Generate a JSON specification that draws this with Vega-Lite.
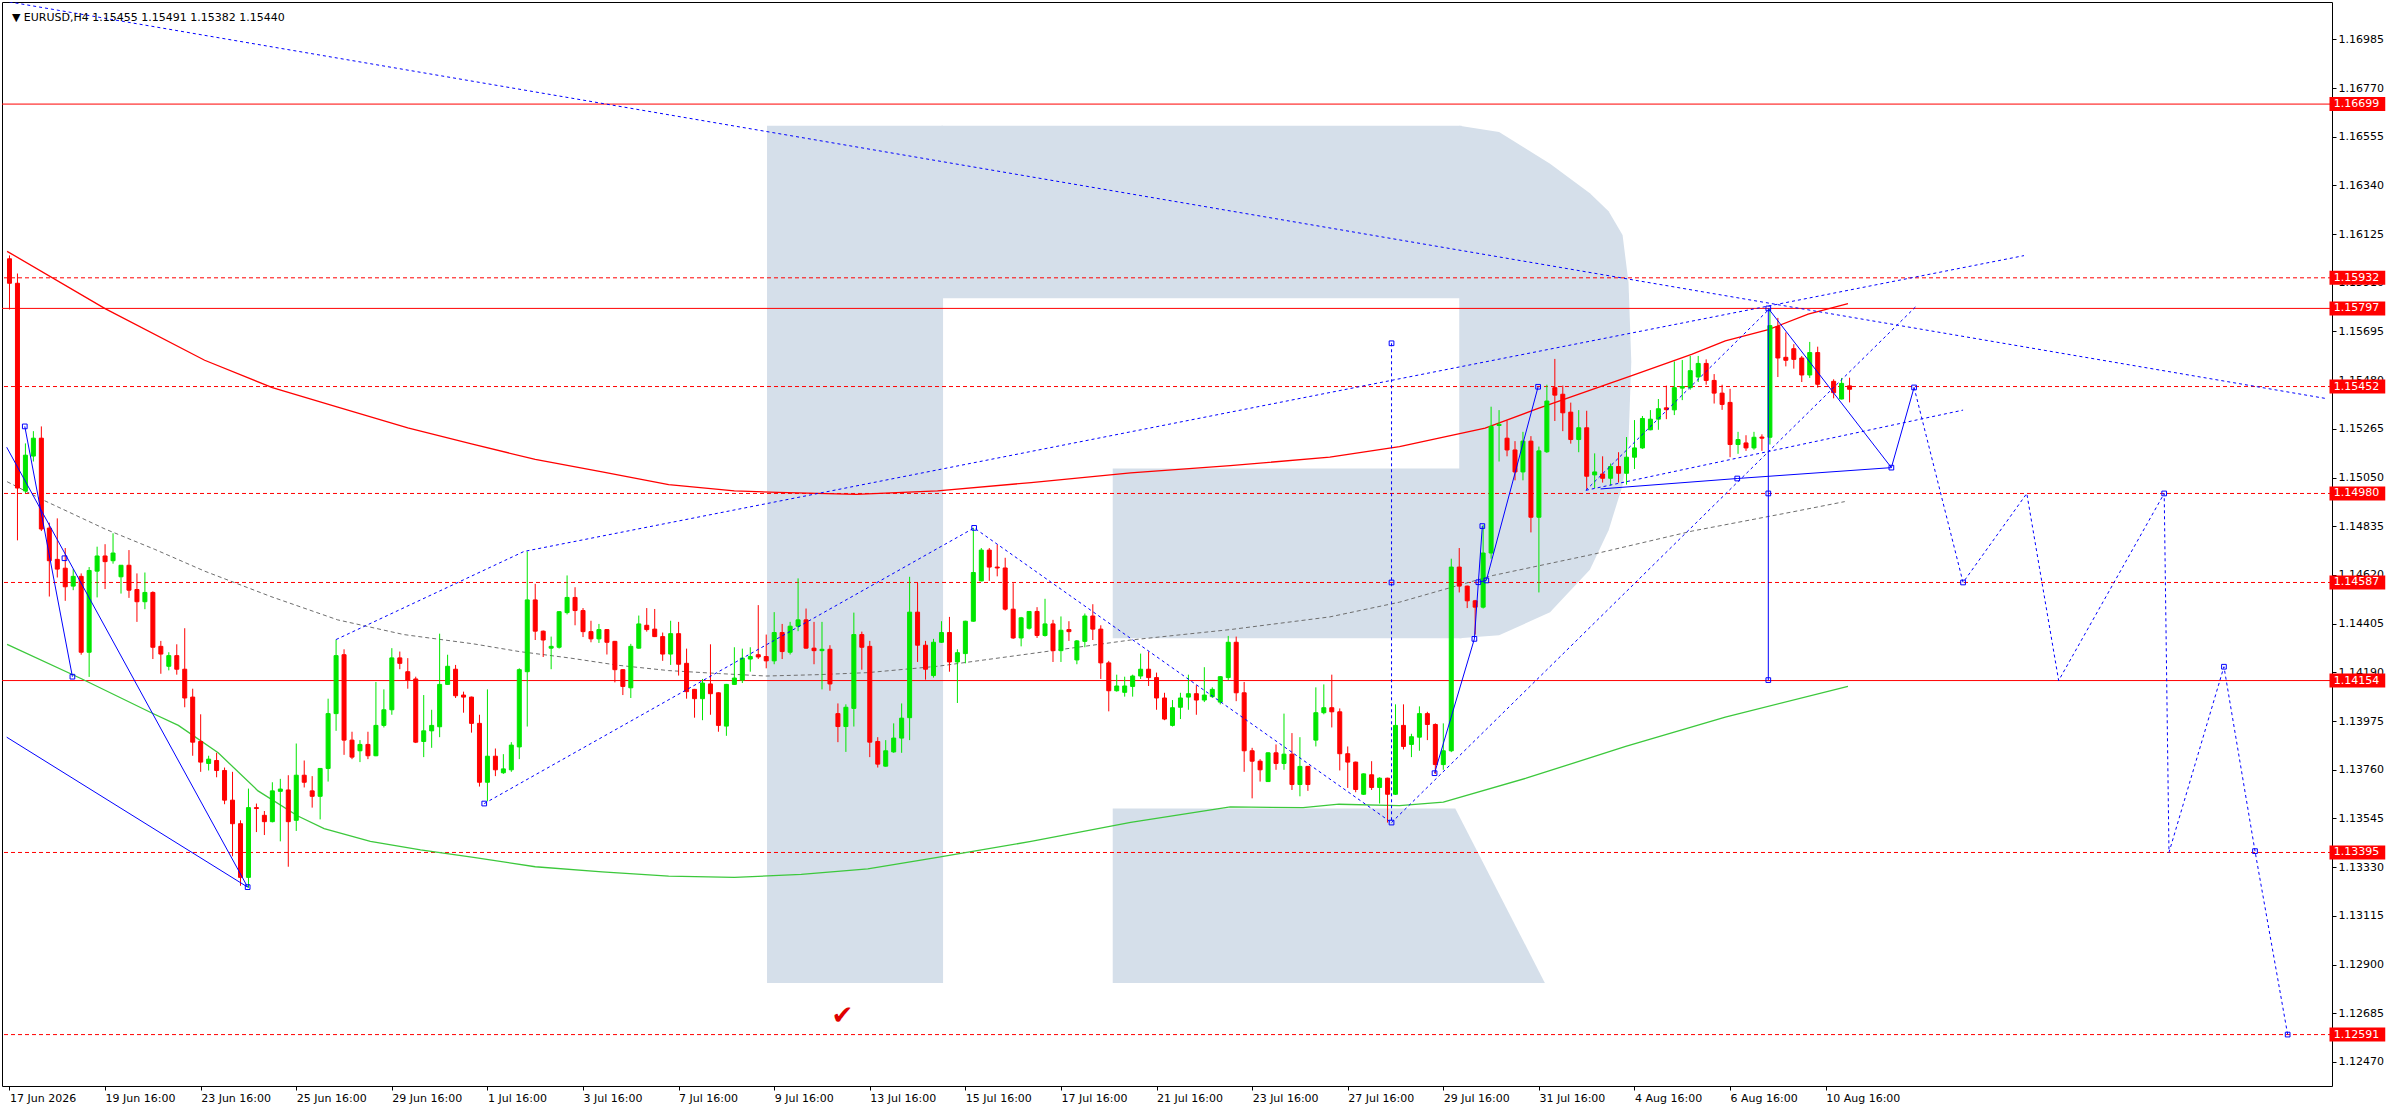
{
  "$schema": "https://vega.github.io/schema/vega-lite/v6.json",
  "description": "EURUSD H4 candles with levels, moving averages and forecast",
  "autosize": {"type": "none"},
  "padding": {"left": 2, "top": 2, "right": 64, "bottom": 24},
  "width": 2330,
  "height": 1084,
  "background": "white",
  "config": {
    "view": {"stroke": "black", "strokeWidth": 1},
    "font": "DejaVu Sans"
  },
  "datasets": {
    "bars": [
      {"i":0,"o":1.16016,"h":1.16031,"l":1.15792,"c":1.15908},
      {"i":1,"o":1.15908,"h":1.15951,"l":1.14773,"c":1.15004},
      {"i":2,"o":1.14991,"h":1.15201,"l":1.14982,"c":1.15149},
      {"i":3,"o":1.15145,"h":1.15255,"l":1.15121,"c":1.15224},
      {"i":4,"o":1.15224,"h":1.15276,"l":1.14814,"c":1.14823},
      {"i":5,"o":1.14827,"h":1.14851,"l":1.14525,"c":1.14683},
      {"i":6,"o":1.14689,"h":1.14870,"l":1.14609,"c":1.14646},
      {"i":7,"o":1.14650,"h":1.14739,"l":1.14506,"c":1.14568},
      {"i":8,"o":1.14571,"h":1.14646,"l":1.14553,"c":1.14614},
      {"i":9,"o":1.14614,"h":1.14627,"l":1.14268,"c":1.14279},
      {"i":10,"o":1.14279,"h":1.14655,"l":1.14170,"c":1.14640},
      {"i":11,"o":1.14637,"h":1.14745,"l":1.14521,"c":1.14704},
      {"i":12,"o":1.14704,"h":1.14756,"l":1.14558,"c":1.14679},
      {"i":13,"o":1.14683,"h":1.14804,"l":1.14670,"c":1.14717},
      {"i":14,"o":1.14612,"h":1.14663,"l":1.14538,"c":1.14663},
      {"i":15,"o":1.14663,"h":1.14730,"l":1.14519,"c":1.14553},
      {"i":16,"o":1.14556,"h":1.14627,"l":1.14413,"c":1.14502},
      {"i":17,"o":1.14502,"h":1.14631,"l":1.14469,"c":1.14543},
      {"i":18,"o":1.14543,"h":1.14548,"l":1.14249,"c":1.14301},
      {"i":19,"o":1.14305,"h":1.14329,"l":1.14184,"c":1.14271},
      {"i":20,"o":1.14217,"h":1.14279,"l":1.14199,"c":1.14264},
      {"i":21,"o":1.14264,"h":1.14314,"l":1.14180,"c":1.14204},
      {"i":22,"o":1.14204,"h":1.14385,"l":1.14036,"c":1.14077},
      {"i":23,"o":1.14081,"h":1.14118,"l":1.13822,"c":1.13882},
      {"i":24,"o":1.13885,"h":1.14005,"l":1.13751,"c":1.13794},
      {"i":25,"o":1.13788,"h":1.13822,"l":1.13757,"c":1.13807},
      {"i":26,"o":1.13801,"h":1.13835,"l":1.13727,"c":1.13757},
      {"i":27,"o":1.13757,"h":1.13770,"l":1.13608,"c":1.13626},
      {"i":28,"o":1.13626,"h":1.13751,"l":1.13378,"c":1.13522},
      {"i":29,"o":1.13522,"h":1.13537,"l":1.13248,"c":1.13285},
      {"i":30,"o":1.13285,"h":1.13677,"l":1.13239,"c":1.13593},
      {"i":31,"o":1.13593,"h":1.13611,"l":1.13485,"c":1.13589},
      {"i":32,"o":1.13559,"h":1.13578,"l":1.13472,"c":1.13531},
      {"i":33,"o":1.13531,"h":1.13705,"l":1.13528,"c":1.13667},
      {"i":34,"o":1.13665,"h":1.13720,"l":1.13444,"c":1.13675},
      {"i":35,"o":1.13671,"h":1.13736,"l":1.13332,"c":1.13531},
      {"i":36,"o":1.13537,"h":1.13876,"l":1.13490,"c":1.13736},
      {"i":37,"o":1.13736,"h":1.13801,"l":1.13682,"c":1.13705},
      {"i":38,"o":1.13667,"h":1.13732,"l":1.13593,"c":1.13643},
      {"i":39,"o":1.13643,"h":1.13768,"l":1.13541,"c":1.13766},
      {"i":40,"o":1.13766,"h":1.14074,"l":1.13708,"c":1.14008},
      {"i":41,"o":1.14008,"h":1.14335,"l":1.13932,"c":1.14264},
      {"i":42,"o":1.14268,"h":1.14292,"l":1.13826,"c":1.13891},
      {"i":43,"o":1.13891,"h":1.13928,"l":1.13807,"c":1.13816},
      {"i":44,"o":1.13844,"h":1.13891,"l":1.13794,"c":1.13872},
      {"i":45,"o":1.13872,"h":1.13928,"l":1.13807,"c":1.13822},
      {"i":46,"o":1.13822,"h":1.14148,"l":1.13820,"c":1.13956},
      {"i":47,"o":1.13956,"h":1.14115,"l":1.13947,"c":1.14025},
      {"i":48,"o":1.14025,"h":1.14297,"l":1.14003,"c":1.14254},
      {"i":49,"o":1.14254,"h":1.14282,"l":1.14204,"c":1.14230},
      {"i":50,"o":1.14193,"h":1.14253,"l":1.14118,"c":1.14156},
      {"i":51,"o":1.14161,"h":1.14171,"l":1.13878,"c":1.13882},
      {"i":52,"o":1.13885,"h":1.14090,"l":1.13816,"c":1.13932},
      {"i":53,"o":1.13932,"h":1.14025,"l":1.13857,"c":1.13956},
      {"i":54,"o":1.13950,"h":1.14361,"l":1.13904,"c":1.14137},
      {"i":55,"o":1.14137,"h":1.14268,"l":1.14135,"c":1.14217},
      {"i":56,"o":1.14204,"h":1.14223,"l":1.14077,"c":1.14087},
      {"i":57,"o":1.14090,"h":1.14105,"l":1.14012,"c":1.14081},
      {"i":58,"o":1.14081,"h":1.14083,"l":1.13924,"c":1.13965},
      {"i":59,"o":1.13965,"h":1.14003,"l":1.13686,"c":1.13705},
      {"i":60,"o":1.13705,"h":1.14115,"l":1.13621,"c":1.13820},
      {"i":61,"o":1.13820,"h":1.13854,"l":1.13732,"c":1.13760},
      {"i":62,"o":1.13747,"h":1.13829,"l":1.13742,"c":1.13764},
      {"i":63,"o":1.13760,"h":1.13882,"l":1.13751,"c":1.13869},
      {"i":64,"o":1.13861,"h":1.14208,"l":1.13807,"c":1.14202},
      {"i":65,"o":1.14193,"h":1.14724,"l":1.13951,"c":1.14510},
      {"i":66,"o":1.14510,"h":1.14581,"l":1.14333,"c":1.14372},
      {"i":67,"o":1.14372,"h":1.14375,"l":1.14258,"c":1.14333},
      {"i":68,"o":1.14297,"h":1.14348,"l":1.14204,"c":1.14305},
      {"i":69,"o":1.14301,"h":1.14460,"l":1.14295,"c":1.14458},
      {"i":70,"o":1.14454,"h":1.14618,"l":1.14446,"c":1.14521},
      {"i":71,"o":1.14521,"h":1.14566,"l":1.14398,"c":1.14463},
      {"i":72,"o":1.14463,"h":1.14474,"l":1.14346,"c":1.14370},
      {"i":73,"o":1.14370,"h":1.14418,"l":1.14323,"c":1.14338},
      {"i":74,"o":1.14338,"h":1.14404,"l":1.14320,"c":1.14379},
      {"i":75,"o":1.14379,"h":1.14381,"l":1.14269,"c":1.14323},
      {"i":76,"o":1.14327,"h":1.14329,"l":1.14146,"c":1.14202},
      {"i":77,"o":1.14202,"h":1.14204,"l":1.14090,"c":1.14128},
      {"i":78,"o":1.14122,"h":1.14316,"l":1.14077,"c":1.14305},
      {"i":79,"o":1.14297,"h":1.14441,"l":1.14295,"c":1.14404},
      {"i":80,"o":1.14398,"h":1.14474,"l":1.14370,"c":1.14379},
      {"i":81,"o":1.14381,"h":1.14470,"l":1.14346,"c":1.14348},
      {"i":82,"o":1.14348,"h":1.14366,"l":1.14241,"c":1.14271},
      {"i":83,"o":1.14271,"h":1.14418,"l":1.14223,"c":1.14361},
      {"i":84,"o":1.14361,"h":1.14413,"l":1.14176,"c":1.14226},
      {"i":85,"o":1.14230,"h":1.14295,"l":1.14074,"c":1.14105},
      {"i":86,"o":1.14115,"h":1.14117,"l":1.13990,"c":1.14074},
      {"i":87,"o":1.14074,"h":1.14161,"l":1.13979,"c":1.14143},
      {"i":88,"o":1.14139,"h":1.14314,"l":1.14003,"c":1.14096},
      {"i":89,"o":1.14100,"h":1.14102,"l":1.13928,"c":1.13956},
      {"i":90,"o":1.13953,"h":1.14139,"l":1.13910,"c":1.14137},
      {"i":91,"o":1.14137,"h":1.14301,"l":1.14135,"c":1.14165},
      {"i":92,"o":1.14156,"h":1.14295,"l":1.14143,"c":1.14253},
      {"i":93,"o":1.14249,"h":1.14301,"l":1.14193,"c":1.14260},
      {"i":94,"o":1.14268,"h":1.14487,"l":1.14249,"c":1.14258},
      {"i":95,"o":1.14260,"h":1.14357,"l":1.14208,"c":1.14241},
      {"i":96,"o":1.14241,"h":1.14456,"l":1.14226,"c":1.14366},
      {"i":97,"o":1.14366,"h":1.14404,"l":1.14249,"c":1.14282},
      {"i":98,"o":1.14279,"h":1.14413,"l":1.14269,"c":1.14394},
      {"i":99,"o":1.14394,"h":1.14605,"l":1.14372,"c":1.14422},
      {"i":100,"o":1.14422,"h":1.14472,"l":1.14295,"c":1.14297},
      {"i":101,"o":1.14297,"h":1.14413,"l":1.14226,"c":1.14286},
      {"i":102,"o":1.14286,"h":1.14413,"l":1.14115,"c":1.14292},
      {"i":103,"o":1.14292,"h":1.14310,"l":1.14109,"c":1.14139},
      {"i":104,"o":1.14008,"h":1.14053,"l":1.13882,"c":1.13951},
      {"i":105,"o":1.13951,"h":1.14049,"l":1.13839,"c":1.14036},
      {"i":106,"o":1.14031,"h":1.14454,"l":1.13951,"c":1.14357},
      {"i":107,"o":1.14357,"h":1.14370,"l":1.14202,"c":1.14301},
      {"i":108,"o":1.14305,"h":1.14329,"l":1.13816,"c":1.13882},
      {"i":109,"o":1.13885,"h":1.13904,"l":1.13770,"c":1.13785},
      {"i":110,"o":1.13776,"h":1.13891,"l":1.13774,"c":1.13844},
      {"i":111,"o":1.13839,"h":1.13965,"l":1.13835,"c":1.13900},
      {"i":112,"o":1.13900,"h":1.14053,"l":1.13835,"c":1.13988},
      {"i":113,"o":1.13990,"h":1.14612,"l":1.13891,"c":1.14456},
      {"i":114,"o":1.14456,"h":1.14586,"l":1.14236,"c":1.14310},
      {"i":115,"o":1.14310,"h":1.14329,"l":1.14158,"c":1.14204},
      {"i":116,"o":1.14176,"h":1.14338,"l":1.14167,"c":1.14323},
      {"i":117,"o":1.14323,"h":1.14416,"l":1.14320,"c":1.14366},
      {"i":118,"o":1.14366,"h":1.14435,"l":1.14193,"c":1.14236},
      {"i":119,"o":1.14236,"h":1.14292,"l":1.14055,"c":1.14277},
      {"i":120,"o":1.14273,"h":1.14418,"l":1.14230,"c":1.14416},
      {"i":121,"o":1.14416,"h":1.14828,"l":1.14414,"c":1.14631},
      {"i":122,"o":1.14594,"h":1.14739,"l":1.14592,"c":1.14730},
      {"i":123,"o":1.14730,"h":1.14739,"l":1.14594,"c":1.14655},
      {"i":124,"o":1.14655,"h":1.14754,"l":1.14614,"c":1.14651},
      {"i":125,"o":1.14651,"h":1.14696,"l":1.14463,"c":1.14469},
      {"i":126,"o":1.14469,"h":1.14584,"l":1.14338,"c":1.14342},
      {"i":127,"o":1.14342,"h":1.14435,"l":1.14305,"c":1.14431},
      {"i":128,"o":1.14385,"h":1.14461,"l":1.14379,"c":1.14459},
      {"i":129,"o":1.14459,"h":1.14478,"l":1.14342,"c":1.14353},
      {"i":130,"o":1.14353,"h":1.14515,"l":1.14348,"c":1.14404},
      {"i":131,"o":1.14404,"h":1.14422,"l":1.14236,"c":1.14286},
      {"i":132,"o":1.14286,"h":1.14437,"l":1.14236,"c":1.14376},
      {"i":133,"o":1.14379,"h":1.14416,"l":1.14329,"c":1.14370},
      {"i":134,"o":1.14245,"h":1.14333,"l":1.14226,"c":1.14329},
      {"i":135,"o":1.14327,"h":1.14450,"l":1.14301,"c":1.14439},
      {"i":136,"o":1.14439,"h":1.14491,"l":1.14333,"c":1.14381},
      {"i":137,"o":1.14381,"h":1.14398,"l":1.14161,"c":1.14232},
      {"i":138,"o":1.14232,"h":1.14241,"l":1.14018,"c":1.14109},
      {"i":139,"o":1.14109,"h":1.14180,"l":1.14105,"c":1.14130},
      {"i":140,"o":1.14102,"h":1.14171,"l":1.14083,"c":1.14130},
      {"i":141,"o":1.14128,"h":1.14180,"l":1.14083,"c":1.14174},
      {"i":142,"o":1.14174,"h":1.14273,"l":1.14161,"c":1.14204},
      {"i":143,"o":1.14204,"h":1.14282,"l":1.14130,"c":1.14167},
      {"i":144,"o":1.14167,"h":1.14189,"l":1.14025,"c":1.14077},
      {"i":145,"o":1.14077,"h":1.14100,"l":1.13979,"c":1.13984},
      {"i":146,"o":1.13956,"h":1.14068,"l":1.13951,"c":1.14034},
      {"i":147,"o":1.14036,"h":1.14100,"l":1.13984,"c":1.14077},
      {"i":148,"o":1.14081,"h":1.14180,"l":1.14025,"c":1.14096},
      {"i":149,"o":1.14096,"h":1.14133,"l":1.14003,"c":1.14068},
      {"i":150,"o":1.14068,"h":1.14213,"l":1.14059,"c":1.14090},
      {"i":151,"o":1.14083,"h":1.14124,"l":1.14077,"c":1.14115},
      {"i":152,"o":1.14059,"h":1.14174,"l":1.14049,"c":1.14171},
      {"i":153,"o":1.14167,"h":1.14351,"l":1.14156,"c":1.14323},
      {"i":154,"o":1.14323,"h":1.14348,"l":1.14063,"c":1.14100},
      {"i":155,"o":1.14100,"h":1.14148,"l":1.13751,"c":1.13844},
      {"i":156,"o":1.13844,"h":1.13857,"l":1.13634,"c":1.13798},
      {"i":157,"o":1.13798,"h":1.13807,"l":1.13708,"c":1.13760},
      {"i":158,"o":1.13708,"h":1.13837,"l":1.13706,"c":1.13835},
      {"i":159,"o":1.13835,"h":1.13872,"l":1.13760,"c":1.13788},
      {"i":160,"o":1.13788,"h":1.14008,"l":1.13760,"c":1.13829},
      {"i":161,"o":1.13829,"h":1.13922,"l":1.13671,"c":1.13695},
      {"i":162,"o":1.13695,"h":1.13904,"l":1.13643,"c":1.13775},
      {"i":163,"o":1.13775,"h":1.13777,"l":1.13667,"c":1.13695},
      {"i":164,"o":1.13891,"h":1.14124,"l":1.13863,"c":1.14012},
      {"i":165,"o":1.14012,"h":1.14137,"l":1.14005,"c":1.14034},
      {"i":166,"o":1.14034,"h":1.14180,"l":1.13947,"c":1.14016},
      {"i":167,"o":1.14016,"h":1.14031,"l":1.13757,"c":1.13831},
      {"i":168,"o":1.13831,"h":1.13863,"l":1.13680,"c":1.13794},
      {"i":169,"o":1.13794,"h":1.13796,"l":1.13661,"c":1.13673},
      {"i":170,"o":1.13652,"h":1.13744,"l":1.13649,"c":1.13742},
      {"i":171,"o":1.13738,"h":1.13798,"l":1.13671,"c":1.13682},
      {"i":172,"o":1.13682,"h":1.13727,"l":1.13611,"c":1.13723},
      {"i":173,"o":1.13723,"h":1.13725,"l":1.13527,"c":1.13652},
      {"i":174,"o":1.13652,"h":1.14049,"l":1.13649,"c":1.13956},
      {"i":175,"o":1.13956,"h":1.14049,"l":1.13850,"c":1.13863},
      {"i":176,"o":1.13872,"h":1.13919,"l":1.13816,"c":1.13906},
      {"i":177,"o":1.13904,"h":1.14040,"l":1.13844,"c":1.14008},
      {"i":178,"o":1.14008,"h":1.14016,"l":1.13891,"c":1.13960},
      {"i":179,"o":1.13960,"h":1.13965,"l":1.13742,"c":1.13783},
      {"i":180,"o":1.13783,"h":1.13965,"l":1.13760,"c":1.13844},
      {"i":181,"o":1.13844,"h":1.14692,"l":1.13838,"c":1.14655},
      {"i":182,"o":1.14655,"h":1.14739,"l":1.14543,"c":1.14571},
      {"i":183,"o":1.14571,"h":1.14573,"l":1.14474,"c":1.14506},
      {"i":184,"o":1.14506,"h":1.14510,"l":1.14357,"c":1.14478},
      {"i":185,"o":1.14478,"h":1.14842,"l":1.14472,"c":1.14717},
      {"i":186,"o":1.14717,"h":1.15363,"l":1.14692,"c":1.15276},
      {"i":187,"o":1.15280,"h":1.15348,"l":1.15121,"c":1.15285},
      {"i":188,"o":1.15224,"h":1.15302,"l":1.15144,"c":1.15172},
      {"i":189,"o":1.15172,"h":1.15211,"l":1.15038,"c":1.15075},
      {"i":190,"o":1.15075,"h":1.15252,"l":1.15038,"c":1.15211},
      {"i":191,"o":1.15211,"h":1.15233,"l":1.14808,"c":1.14875},
      {"i":192,"o":1.14875,"h":1.15187,"l":1.14543,"c":1.15168},
      {"i":193,"o":1.15164,"h":1.15460,"l":1.15159,"c":1.15388},
      {"i":194,"o":1.15447,"h":1.15574,"l":1.15300,"c":1.15414},
      {"i":195,"o":1.15418,"h":1.15456,"l":1.15255,"c":1.15336},
      {"i":196,"o":1.15339,"h":1.15381,"l":1.15200,"c":1.15218},
      {"i":197,"o":1.15218,"h":1.15348,"l":1.15162,"c":1.15270},
      {"i":198,"o":1.15270,"h":1.15345,"l":1.15000,"c":1.15056},
      {"i":199,"o":1.15062,"h":1.15157,"l":1.15004,"c":1.15075},
      {"i":200,"o":1.15066,"h":1.15144,"l":1.15028,"c":1.15047},
      {"i":201,"o":1.15047,"h":1.15112,"l":1.15015,"c":1.15099},
      {"i":202,"o":1.15099,"h":1.15162,"l":1.15028,"c":1.15069},
      {"i":203,"o":1.15069,"h":1.15229,"l":1.15019,"c":1.15140},
      {"i":204,"o":1.15140,"h":1.15304,"l":1.15088,"c":1.15181},
      {"i":205,"o":1.15181,"h":1.15322,"l":1.15177,"c":1.15311},
      {"i":206,"o":1.15261,"h":1.15348,"l":1.15259,"c":1.15308},
      {"i":207,"o":1.15308,"h":1.15397,"l":1.15261,"c":1.15354},
      {"i":208,"o":1.15358,"h":1.15456,"l":1.15308,"c":1.15350},
      {"i":209,"o":1.15349,"h":1.15563,"l":1.15326,"c":1.15447},
      {"i":210,"o":1.15445,"h":1.15569,"l":1.15392,"c":1.15452},
      {"i":211,"o":1.15447,"h":1.15587,"l":1.15438,"c":1.15522},
      {"i":212,"o":1.15494,"h":1.15587,"l":1.15472,"c":1.15554},
      {"i":213,"o":1.15554,"h":1.15572,"l":1.15460,"c":1.15479},
      {"i":214,"o":1.15479,"h":1.15507,"l":1.15377,"c":1.15423},
      {"i":215,"o":1.15423,"h":1.15460,"l":1.15349,"c":1.15373},
      {"i":216,"o":1.15382,"h":1.15442,"l":1.15140,"c":1.15196},
      {"i":217,"o":1.15196,"h":1.15252,"l":1.15155,"c":1.15218},
      {"i":218,"o":1.15203,"h":1.15237,"l":1.15168,"c":1.15181},
      {"i":219,"o":1.15181,"h":1.15252,"l":1.15173,"c":1.15228},
      {"i":220,"o":1.15229,"h":1.15241,"l":1.15168,"c":1.15224},
      {"i":221,"o":1.15228,"h":1.15797,"l":1.15196,"c":1.15721},
      {"i":222,"o":1.15717,"h":1.15755,"l":1.15494,"c":1.15578},
      {"i":223,"o":1.15581,"h":1.15691,"l":1.15541,"c":1.15568},
      {"i":224,"o":1.15619,"h":1.15639,"l":1.15531,"c":1.15572},
      {"i":225,"o":1.15578,"h":1.15587,"l":1.15472,"c":1.15503},
      {"i":226,"o":1.15503,"h":1.15649,"l":1.15490,"c":1.15602},
      {"i":227,"o":1.15602,"h":1.15628,"l":1.15447,"c":1.15462},
      {"i":229,"o":1.15475,"h":1.15484,"l":1.15400,"c":1.15425},
      {"i":230,"o":1.15397,"h":1.15490,"l":1.15395,"c":1.15466},
      {"i":231,"o":1.15455,"h":1.15491,"l":1.15382,"c":1.15440}
    ],
    "levels": [
      {"p": 1.16699, "dash": 0},
      {"p": 1.15932, "dash": 1},
      {"p": 1.15797, "dash": 0},
      {"p": 1.15452, "dash": 1},
      {"p": 1.14980, "dash": 1},
      {"p": 1.14587, "dash": 1},
      {"p": 1.14154, "dash": 0},
      {"p": 1.13395, "dash": 1},
      {"p": 1.12591, "dash": 1}
    ],
    "ma": [
      {"m": "red", "i": -0.3, "p": 1.16049},
      {"m": "red", "i": 12, "p": 1.15796},
      {"m": "red", "i": 24.5, "p": 1.15568},
      {"m": "red", "i": 33, "p": 1.15447},
      {"m": "red", "i": 41, "p": 1.15363},
      {"m": "red", "i": 50, "p": 1.15270},
      {"m": "red", "i": 58, "p": 1.15199},
      {"m": "red", "i": 66, "p": 1.15130},
      {"m": "red", "i": 74.4, "p": 1.15075},
      {"m": "red", "i": 82.75, "p": 1.15019},
      {"m": "red", "i": 91, "p": 1.14991},
      {"m": "red", "i": 96.5, "p": 1.14985},
      {"m": "red", "i": 106.3, "p": 1.14976},
      {"m": "red", "i": 116.5, "p": 1.14991},
      {"m": "red", "i": 128.25, "p": 1.15028},
      {"m": "red", "i": 140.75, "p": 1.15071},
      {"m": "red", "i": 153.25, "p": 1.15103},
      {"m": "red", "i": 165.75, "p": 1.15140},
      {"m": "red", "i": 174.5, "p": 1.15187},
      {"m": "red", "i": 185.25, "p": 1.15268},
      {"m": "red", "i": 191.65, "p": 1.15352},
      {"m": "red", "i": 203.75, "p": 1.15501},
      {"m": "red", "i": 211.25, "p": 1.15595},
      {"m": "red", "i": 215.4, "p": 1.15654},
      {"m": "red", "i": 220.8, "p": 1.15703},
      {"m": "red", "i": 225.8, "p": 1.15772},
      {"m": "red", "i": 230.8, "p": 1.15818},
      {"m": "grey", "i": -0.3, "p": 1.15032},
      {"m": "grey", "i": 4.1, "p": 1.14953},
      {"m": "grey", "i": 12, "p": 1.14823},
      {"m": "grey", "i": 18.25, "p": 1.14733},
      {"m": "grey", "i": 24.5, "p": 1.14637},
      {"m": "grey", "i": 32.8, "p": 1.14525},
      {"m": "grey", "i": 41.2, "p": 1.14422},
      {"m": "grey", "i": 49.5, "p": 1.14357},
      {"m": "grey", "i": 58.25, "p": 1.14316},
      {"m": "grey", "i": 64, "p": 1.14282},
      {"m": "grey", "i": 70.25, "p": 1.14254},
      {"m": "grey", "i": 76.5, "p": 1.14221},
      {"m": "grey", "i": 82.75, "p": 1.14198},
      {"m": "grey", "i": 89, "p": 1.14185},
      {"m": "grey", "i": 95, "p": 1.14174},
      {"m": "grey", "i": 101.5, "p": 1.14180},
      {"m": "grey", "i": 107.75, "p": 1.14189},
      {"m": "grey", "i": 116.5, "p": 1.14217},
      {"m": "grey", "i": 128.25, "p": 1.14273},
      {"m": "grey", "i": 140.75, "p": 1.14333},
      {"m": "grey", "i": 153.25, "p": 1.14379},
      {"m": "grey", "i": 165.75, "p": 1.14435},
      {"m": "grey", "i": 174.5, "p": 1.14500},
      {"m": "grey", "i": 186.25, "p": 1.14618},
      {"m": "grey", "i": 198.75, "p": 1.14711},
      {"m": "grey", "i": 211.25, "p": 1.14814},
      {"m": "grey", "i": 223.75, "p": 1.14898},
      {"m": "grey", "i": 230.4, "p": 1.14944},
      {"m": "green", "i": -0.3, "p": 1.14314},
      {"m": "green", "i": 9.1, "p": 1.14161},
      {"m": "green", "i": 17.8, "p": 1.14012},
      {"m": "green", "i": 21.2, "p": 1.13956},
      {"m": "green", "i": 26.2, "p": 1.13835},
      {"m": "green", "i": 31.2, "p": 1.13667},
      {"m": "green", "i": 36.2, "p": 1.13556},
      {"m": "green", "i": 39.5, "p": 1.13500},
      {"m": "green", "i": 45.3, "p": 1.13444},
      {"m": "green", "i": 51.6, "p": 1.13406},
      {"m": "green", "i": 58.25, "p": 1.13373},
      {"m": "green", "i": 66, "p": 1.13332},
      {"m": "green", "i": 74.4, "p": 1.13309},
      {"m": "green", "i": 82.75, "p": 1.13291},
      {"m": "green", "i": 91, "p": 1.13285},
      {"m": "green", "i": 99.4, "p": 1.13298},
      {"m": "green", "i": 107.75, "p": 1.13323},
      {"m": "green", "i": 116.5, "p": 1.13373},
      {"m": "green", "i": 128.25, "p": 1.13444},
      {"m": "green", "i": 140.75, "p": 1.13528},
      {"m": "green", "i": 153.25, "p": 1.13596},
      {"m": "green", "i": 162.4, "p": 1.13593},
      {"m": "green", "i": 166.9, "p": 1.13608},
      {"m": "green", "i": 174.5, "p": 1.13602},
      {"m": "green", "i": 180, "p": 1.13617},
      {"m": "green", "i": 190.4, "p": 1.13723},
      {"m": "green", "i": 202.9, "p": 1.13863},
      {"m": "green", "i": 215.4, "p": 1.13993},
      {"m": "green", "i": 230.8, "p": 1.14128}
    ],
    "solid": [
      {"g": 1, "o": 0, "i": 1.92, "p": 1.15276},
      {"g": 1, "o": 1, "i": 7.9, "p": 1.14171},
      {"g": 2, "o": 0, "i": -0.35, "p": 1.15184},
      {"g": 2, "o": 1, "i": 29.9, "p": 1.13242},
      {"g": 3, "o": 0, "i": -0.35, "p": 1.13904},
      {"g": 3, "o": 1, "i": 29.9, "p": 1.13242},
      {"g": 4, "o": 0, "i": 178.9, "p": 1.13745},
      {"g": 4, "o": 1, "i": 183.9, "p": 1.14338},
      {"g": 4, "o": 2, "i": 184.9, "p": 1.14836},
      {"g": 5, "o": 0, "i": 184.4, "p": 1.14588},
      {"g": 5, "o": 1, "i": 185.4, "p": 1.14596},
      {"g": 5, "o": 2, "i": 191.9, "p": 1.15451},
      {"g": 6, "o": 0, "i": 199.75, "p": 1.15000},
      {"g": 6, "o": 1, "i": 216.9, "p": 1.15046},
      {"g": 6, "o": 2, "i": 236.25, "p": 1.15094},
      {"g": 6, "o": 3, "i": 239.1, "p": 1.15448},
      {"g": 7, "o": 0, "i": 220.8, "p": 1.15797},
      {"g": 7, "o": 1, "i": 220.8, "p": 1.14156},
      {"g": 8, "o": 0, "i": 220.8, "p": 1.15797},
      {"g": 8, "o": 1, "i": 236.25, "p": 1.15094}
    ],
    "dotted": [
      {"g": 1, "o": 0, "i": 0, "p": 1.17150},
      {"g": 1, "o": 1, "i": 291, "p": 1.15398},
      {"g": 2, "o": 0, "i": 41, "p": 1.14335},
      {"g": 2, "o": 1, "i": 64.6, "p": 1.14724},
      {"g": 2, "o": 2, "i": 252.9, "p": 1.16030},
      {"g": 3, "o": 0, "i": 59.6, "p": 1.13611},
      {"g": 3, "o": 1, "i": 121.1, "p": 1.14828},
      {"g": 3, "o": 2, "i": 173.5, "p": 1.13527},
      {"g": 4, "o": 0, "i": 173.5, "p": 1.15643},
      {"g": 4, "o": 1, "i": 173.5, "p": 1.13527},
      {"g": 5, "o": 0, "i": 173.5, "p": 1.13527},
      {"g": 5, "o": 1, "i": 239.5, "p": 1.15811},
      {"g": 6, "o": 0, "i": 197.9, "p": 1.14994},
      {"g": 6, "o": 1, "i": 221, "p": 1.15797},
      {"g": 7, "o": 0, "i": 197.9, "p": 1.14994},
      {"g": 7, "o": 1, "i": 245.25, "p": 1.15348},
      {"g": 8, "o": 0, "i": 239.1, "p": 1.15448},
      {"g": 8, "o": 1, "i": 245.25, "p": 1.14587},
      {"g": 8, "o": 2, "i": 253.25, "p": 1.14980},
      {"g": 8, "o": 3, "i": 257.25, "p": 1.14154},
      {"g": 8, "o": 4, "i": 270.5, "p": 1.14980},
      {"g": 8, "o": 5, "i": 271.1, "p": 1.13395},
      {"g": 8, "o": 6, "i": 278, "p": 1.14215},
      {"g": 8, "o": 7, "i": 281.9, "p": 1.13401},
      {"g": 8, "o": 8, "i": 286, "p": 1.12591}
    ],
    "anchors": [
      {"i": 1.92, "p": 1.15276},
      {"i": 7.9, "p": 1.14171},
      {"i": 6.9, "p": 1.14694},
      {"i": 29.9, "p": 1.13242},
      {"i": 59.6, "p": 1.13611},
      {"i": 121.1, "p": 1.14828},
      {"i": 173.5, "p": 1.15643},
      {"i": 173.5, "p": 1.14587},
      {"i": 173.5, "p": 1.13527},
      {"i": 178.9, "p": 1.13745},
      {"i": 183.9, "p": 1.14338},
      {"i": 184.4, "p": 1.14588},
      {"i": 185.4, "p": 1.14596},
      {"i": 184.9, "p": 1.14836},
      {"i": 191.9, "p": 1.15451},
      {"i": 216.9, "p": 1.15046},
      {"i": 220.8, "p": 1.15797},
      {"i": 220.8, "p": 1.14980},
      {"i": 220.8, "p": 1.14156},
      {"i": 236.25, "p": 1.15094},
      {"i": 239.1, "p": 1.15448},
      {"i": 245.25, "p": 1.14587},
      {"i": 270.5, "p": 1.14980},
      {"i": 278, "p": 1.14215},
      {"i": 281.9, "p": 1.13401},
      {"i": 286, "p": 1.12591}
    ],
    "wmRects": [
      {"x1": 95.1, "x2": 117.2, "y1": 1.12819, "y2": 1.16603},
      {"x1": 117.0, "x2": 182.3, "y1": 1.15842, "y2": 1.16603},
      {"x1": 138.5, "x2": 182.3, "y1": 1.14341, "y2": 1.15090}
    ],
    "wmAreas": [
      {"g": "arc", "i": 182.0, "t": 1.16603, "b": 1.14341},
      {"g": "arc", "i": 187.0, "t": 1.16576, "b": 1.14354},
      {"g": "arc", "i": 193.4, "t": 1.16436, "b": 1.14455},
      {"g": "arc", "i": 198.4, "t": 1.16305, "b": 1.14643},
      {"g": "arc", "i": 200.75, "t": 1.16226, "b": 1.14818},
      {"g": "arc", "i": 202.5, "t": 1.16121, "b": 1.15015},
      {"g": "arc", "i": 203.25, "t": 1.15911, "b": 1.15212},
      {"g": "arc", "i": 203.6, "t": 1.15561, "b": 1.15561},
      {"g": "leg", "i": 138.5, "t": 1.13589, "b": 1.12819},
      {"g": "leg", "i": 181.5, "t": 1.13589, "b": 1.12819},
      {"g": "leg", "i": 192.75, "t": 1.12819, "b": 1.12819}
    ],
    "notes": [
      {"i": 0.3, "p": 1.170795, "text": "▼  EURUSD,H4  1.15455 1.15491 1.15382 1.15440"}
    ],
    "ticks": [
      {"i": 104.56, "p": 1.12675, "text": "✔"}
    ]
  },
  "layer": [
    {
      "data": {"name": "wmRects"},
      "mark": {"type": "rect", "color": "#D5DFEA"},
      "encoding": {
        "x": {
          "field": "x1",
          "type": "quantitative",
          "title": null,
          "scale": {"domain": [-0.3125, 290.9375], "nice": false, "zero": false},
          "axis": {
            "orient": "bottom",
            "title": null,
            "values": [0, 12, 24, 36, 48, 60, 72, 84, 96, 108, 120, 132, 144, 156, 168, 180, 192, 204, 216, 228],
            "labelExpr": "['17 Jun 2026','19 Jun 16:00','23 Jun 16:00','25 Jun 16:00','29 Jun 16:00','1 Jul 16:00','3 Jul 16:00','7 Jul 16:00','9 Jul 16:00','13 Jul 16:00','15 Jul 16:00','17 Jul 16:00','21 Jul 16:00','23 Jul 16:00','27 Jul 16:00','29 Jul 16:00','31 Jul 16:00','4 Aug 16:00','6 Aug 16:00','10 Aug 16:00'][round(datum.value / 12)]",
            "labels": true,
            "ticks": true,
            "labelAlign": "left",
            "labelBaseline": "top",
            "labelPadding": 2,
            "labelFont": "DejaVu Sans",
            "labelFontSize": 11,
            "labelColor": "#000000",
            "labelOverlap": false,
            "labelFlush": false,
            "labelBound": false,
            "tickSize": 4,
            "tickColor": "#000000",
            "domain": false,
            "grid": false,
            "zindex": 0
          }
        },
        "x2": {"field": "x2"},
        "y": {
          "field": "y1",
          "type": "quantitative",
          "title": null,
          "scale": {"domain": [1.123861, 1.171276], "nice": false, "zero": false},
          "axis": {
            "orient": "right",
            "title": null,
            "values": [1.12470, 1.12685, 1.12900, 1.13115, 1.13330, 1.13545, 1.13760, 1.13975, 1.14190, 1.14405, 1.14620, 1.14835, 1.15050, 1.15265, 1.15480, 1.15695, 1.15910, 1.16125, 1.16340, 1.16555, 1.16770, 1.16985],
            "format": ".5f",
            "labels": true,
            "ticks": true,
            "labelAlign": "left",
            "labelBaseline": "middle",
            "labelPadding": 2,
            "labelFont": "DejaVu Sans",
            "labelFontSize": 11,
            "labelColor": "#000000",
            "labelOverlap": false,
            "labelFlush": false,
            "labelBound": false,
            "tickSize": 4,
            "tickColor": "#000000",
            "domain": false,
            "grid": false,
            "zindex": 0
          }
        },
        "y2": {"field": "y2"}
      }
    },
    {
      "data": {"name": "wmAreas"},
      "mark": {"type": "area", "color": "#D5DFEA", "opacity": 1},
      "encoding": {
        "x": {"field": "i", "type": "quantitative", "title": null},
        "y": {"field": "t", "type": "quantitative", "title": null},
        "y2": {"field": "b"},
        "detail": {"field": "g"}
      }
    },
    {
      "data": {"name": "levels"},
      "transform": [{"filter": "datum.dash == 0"}],
      "mark": {"type": "rule", "color": "#FF0000", "strokeWidth": 1},
      "encoding": {
        "y": {"field": "p", "type": "quantitative", "title": null}
      }
    },
    {
      "data": {"name": "levels"},
      "transform": [{"filter": "datum.dash == 1"}],
      "mark": {"type": "rule", "color": "#FF0000", "strokeWidth": 1, "strokeDash": [4, 3]},
      "encoding": {
        "y": {"field": "p", "type": "quantitative", "title": null}
      }
    },
    {
      "data": {"name": "ma"},
      "transform": [{"filter": "datum.m == 'grey'"}],
      "mark": {"type": "line", "color": "#6E6E6E", "strokeWidth": 1, "strokeDash": [4, 3], "clip": true},
      "encoding": {
        "x": {"field": "i", "type": "quantitative", "title": null},
        "y": {"field": "p", "type": "quantitative", "title": null}
      }
    },
    {
      "data": {"name": "ma"},
      "transform": [{"filter": "datum.m == 'green'"}],
      "mark": {"type": "line", "color": "#3CC83C", "strokeWidth": 1.3, "clip": true},
      "encoding": {
        "x": {"field": "i", "type": "quantitative", "title": null},
        "y": {"field": "p", "type": "quantitative", "title": null}
      }
    },
    {
      "data": {"name": "ma"},
      "transform": [{"filter": "datum.m == 'red'"}],
      "mark": {"type": "line", "color": "#FF0000", "strokeWidth": 1.3, "clip": true},
      "encoding": {
        "x": {"field": "i", "type": "quantitative", "title": null},
        "y": {"field": "p", "type": "quantitative", "title": null}
      }
    },
    {
      "data": {"name": "bars"},
      "mark": {"type": "rule", "strokeWidth": 1},
      "encoding": {
        "x": {"field": "i", "type": "quantitative", "title": null},
        "y": {"field": "l", "type": "quantitative", "title": null},
        "y2": {"field": "h"},
        "color": {"condition": {"test": "datum.c >= datum.o", "value": "#00E600"}, "value": "#FF0000"}
      }
    },
    {
      "data": {"name": "bars"},
      "mark": {"type": "bar", "size": 4, "strokeWidth": 1},
      "encoding": {
        "x": {"field": "i", "type": "quantitative", "title": null},
        "y": {"field": "o", "type": "quantitative", "title": null},
        "y2": {"field": "c"},
        "color": {"condition": {"test": "datum.c >= datum.o", "value": "#00E600"}, "value": "#FF0000"},
        "stroke": {"condition": {"test": "datum.c >= datum.o", "value": "#00E600"}, "value": "#FF0000"}
      }
    },
    {
      "data": {"name": "solid"},
      "mark": {"type": "line", "color": "#0000FF", "strokeWidth": 1, "clip": true},
      "encoding": {
        "x": {"field": "i", "type": "quantitative", "title": null},
        "y": {"field": "p", "type": "quantitative", "title": null},
        "detail": {"field": "g"},
        "order": {"field": "o"}
      }
    },
    {
      "data": {"name": "dotted"},
      "mark": {"type": "line", "color": "#0000FF", "strokeWidth": 1, "strokeDash": [3, 3], "clip": true},
      "encoding": {
        "x": {"field": "i", "type": "quantitative", "title": null},
        "y": {"field": "p", "type": "quantitative", "title": null},
        "detail": {"field": "g"},
        "order": {"field": "o"}
      }
    },
    {
      "data": {"name": "anchors"},
      "mark": {"type": "point", "shape": "square", "filled": false, "size": 22, "color": "#0000FF", "strokeWidth": 1, "opacity": 1},
      "encoding": {
        "x": {"field": "i", "type": "quantitative", "title": null},
        "y": {"field": "p", "type": "quantitative", "title": null}
      }
    },
    {
      "data": {"name": "levels"},
      "mark": {"type": "bar", "orient": "horizontal", "size": 14, "color": "#FF0000", "clip": false},
      "encoding": {
        "x": {"datum": 291.25, "type": "quantitative", "title": null},
        "x2": {"datum": 298.25},
        "y": {"field": "p", "type": "quantitative", "title": null}
      }
    },
    {
      "data": {"name": "levels"},
      "mark": {"type": "text", "align": "left", "baseline": "middle", "color": "white", "font": "DejaVu Sans", "fontSize": 11, "clip": false},
      "encoding": {
        "x": {"datum": 291.8, "type": "quantitative", "title": null},
        "y": {"field": "p", "type": "quantitative", "title": null},
        "text": {"field": "p", "type": "quantitative", "format": ".5f"}
      }
    },
    {
      "data": {"name": "notes"},
      "mark": {"type": "text", "align": "left", "baseline": "middle", "color": "black", "font": "DejaVu Sans", "fontSize": 11},
      "encoding": {
        "x": {"field": "i", "type": "quantitative", "title": null},
        "y": {"field": "p", "type": "quantitative", "title": null},
        "text": {"field": "text"}
      }
    },
    {
      "data": {"name": "ticks"},
      "mark": {"type": "text", "align": "center", "baseline": "middle", "color": "#E00000", "font": "DejaVu Sans", "fontSize": 26},
      "encoding": {
        "x": {"field": "i", "type": "quantitative", "title": null},
        "y": {"field": "p", "type": "quantitative", "title": null},
        "text": {"field": "text"}
      }
    }
  ]
}
